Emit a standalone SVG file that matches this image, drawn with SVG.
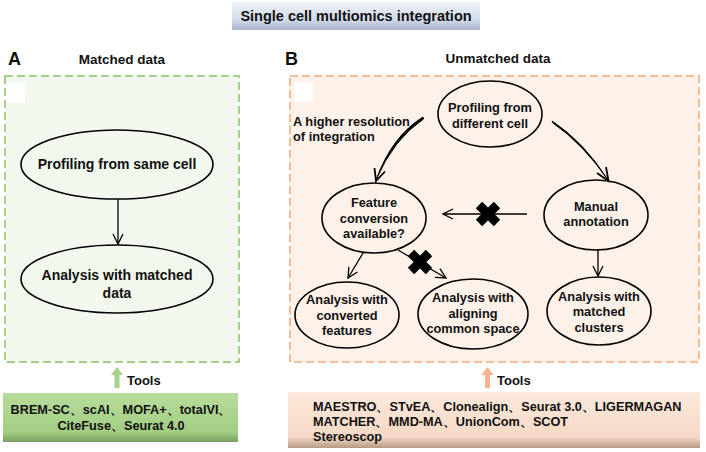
<svg xmlns="http://www.w3.org/2000/svg" width="706" height="452" viewBox="0 0 706 452">
<defs>
<linearGradient id="gTitle" x1="0" y1="0" x2="0" y2="1">
<stop offset="0" stop-color="#eef2f8"/><stop offset="0.6" stop-color="#d4dceb"/><stop offset="1" stop-color="#a9b6ca"/>
</linearGradient>
<linearGradient id="gGreen" x1="0" y1="0" x2="0" y2="1">
<stop offset="0" stop-color="#b7dc9c"/><stop offset="0.8" stop-color="#a2cd82"/><stop offset="1" stop-color="#7a9e62"/>
</linearGradient>
<linearGradient id="gOrange" x1="0" y1="0" x2="0" y2="1">
<stop offset="0" stop-color="#fde9dc"/><stop offset="0.8" stop-color="#f6d9c6"/><stop offset="1" stop-color="#b79a86"/>
</linearGradient>
<marker id="open" viewBox="0 0 12 12" refX="11" refY="6" markerWidth="12" markerHeight="12" markerUnits="userSpaceOnUse" orient="auto">
<path d="M1,1 L11,6 L1,11" fill="none" stroke="#000" stroke-width="1.3"/>
</marker>
<path id="cross" d="M-9,-9 L9,9 M9,-9 L-9,9" fill="none" stroke="#000" stroke-width="9"/>
</defs>
<style>
text{font-family:"Liberation Sans",Arial,sans-serif;font-weight:bold;fill:#111}
.lbl{font-size:18px}
.hd{font-size:13.5px;text-anchor:middle}
.nA{font-size:14px;text-anchor:middle}
.nB{font-size:12.8px;text-anchor:middle}
.ell{fill:none;stroke:#000;stroke-width:1.6}
.conn{fill:none;stroke:#000;stroke-width:1.3}
.tools{font-size:13px}
.tl{font-size:12.7px}
</style>

<g id="title">
<rect x="232" y="2" width="248" height="28" fill="url(#gTitle)"/>
<text x="356" y="21" style="font-size:14.5px;text-anchor:middle">Single cell multiomics integration</text>
</g>

<g id="panelA">
<text class="lbl" x="8" y="65">A</text>
<text class="hd" x="122" y="64">Matched data</text>
<rect x="5" y="76" width="234" height="286" fill="#f3f8ee" stroke="#a6d18a" stroke-width="2" stroke-dasharray="8 4"/>
<rect x="6" y="82" width="19" height="21" fill="#ffffff"/>
</g>

<g id="panelB">
<text class="lbl" x="285" y="65">B</text>
<text class="hd" x="498" y="63">Unmatched data</text>
<rect x="290" y="76" width="409" height="286" fill="#fdf1ea" stroke="#f2bc95" stroke-width="2" stroke-dasharray="8 4"/>
<rect x="294" y="82" width="19" height="20" fill="#ffffff"/>
<text x="293" y="126" style="font-size:12.8px">A higher resolution</text>
<text x="293" y="141" style="font-size:12.8px">of integration</text>
</g>

<g id="nodeA1">
<ellipse class="ell" cx="117" cy="164.5" rx="96" ry="34.5"/>
<text class="nA" x="117" y="169">Profiling from same cell</text>
</g>
<g id="nodeA2">
<ellipse class="ell" cx="117" cy="279" rx="96" ry="34"/>
<text class="nA" x="117" y="280">Analysis with matched</text>
<text class="nA" x="117" y="298">data</text>
</g>

<g id="nodeB1">
<ellipse class="ell" cx="490" cy="114" rx="52" ry="33"/>
<text class="nB" x="490" y="112">Profiling from</text>
<text class="nB" x="490" y="128">different cell</text>
</g>
<g id="nodeB2">
<ellipse class="ell" cx="374" cy="218" rx="52" ry="35"/>
<text class="nB" x="374" y="207">Feature</text>
<text class="nB" x="374" y="223">conversion</text>
<text class="nB" x="374" y="238">available?</text>
</g>
<g id="nodeB3">
<ellipse class="ell" cx="596" cy="215" rx="52" ry="35"/>
<text class="nB" x="596" y="211">Manual</text>
<text class="nB" x="596" y="226">annotation</text>
</g>
<g id="nodeB4">
<ellipse class="ell" cx="347" cy="315" rx="52" ry="33"/>
<text class="nB" x="347" y="304">Analysis with</text>
<text class="nB" x="347" y="320">converted</text>
<text class="nB" x="347" y="335">features</text>
</g>
<g id="nodeB5">
<ellipse class="ell" cx="473" cy="314" rx="55" ry="35"/>
<text class="nB" x="473" y="302">Analysis with</text>
<text class="nB" x="473" y="318">aligning</text>
<text class="nB" x="473" y="333">common space</text>
</g>
<g id="nodeB6">
<ellipse class="ell" cx="599" cy="311" rx="52" ry="34"/>
<text class="nB" x="599" y="301">Analysis with</text>
<text class="nB" x="599" y="316">matched</text>
<text class="nB" x="599" y="332">clusters</text>
</g>

<g id="connectors">
<line class="conn" x1="118" y1="199" x2="118" y2="244" marker-end="url(#open)"/>
<path d="M423,117 Q392,136 376,180 Q393.5,139 423.5,119 Z" fill="#000" stroke="#000" stroke-width="1" stroke-linejoin="round"/>
<path d="M385,171.5 L376,181 L374.5,168" fill="none" stroke="#000" stroke-width="1.8"/>
<path d="M552,121 Q584,142 608,180 Q583,144 553,123 Z" fill="#000" stroke="#000" stroke-width="1" stroke-linejoin="round"/>
<path d="M606,167 L608.5,181 L597,173" fill="none" stroke="#000" stroke-width="1.8"/>
<line class="conn" x1="527" y1="214" x2="443" y2="214" marker-end="url(#open)"/>
<use href="#cross" x="488" y="214"/>
<line class="conn" x1="363" y1="253" x2="348" y2="278" marker-end="url(#open)"/>
<line class="conn" x1="398" y1="250" x2="446" y2="278" marker-end="url(#open)"/>
<use href="#cross" x="420" y="262"/>
<line class="conn" x1="598" y1="250" x2="598" y2="276" marker-end="url(#open)"/>
</g>

<g id="toolsA">
<path d="M114.5,388 L114.5,375 L111,375 L117,367 L123,375 L119.5,375 L119.5,388 Z" fill="#a6d18a"/>
<text class="tools" x="127" y="385">Tools</text>
<rect x="3" y="393" width="235" height="49" fill="url(#gGreen)"/>
<text class="tl" x="121" y="414" text-anchor="middle">BREM-SC、scAI、MOFA+、totalVI、</text>
<text class="tl" x="121" y="430" text-anchor="middle">CiteFuse、Seurat 4.0</text>
</g>

<g id="toolsB">
<path d="M485,388 L485,375 L481.5,375 L487.5,367 L493.5,375 L490,375 L490,388 Z" fill="#f7b48a"/>
<text class="tools" x="497" y="385">Tools</text>
<rect x="288" y="392" width="412" height="56" fill="url(#gOrange)"/>
<text class="tl" x="313" y="411">MAESTRO、STvEA、Clonealign、Seurat 3.0、LIGERMAGAN</text>
<text class="tl" x="313" y="426">MATCHER、MMD-MA、UnionCom、SCOT</text>
<text class="tl" x="313" y="441">Stereoscop</text>
</g>
</svg>
